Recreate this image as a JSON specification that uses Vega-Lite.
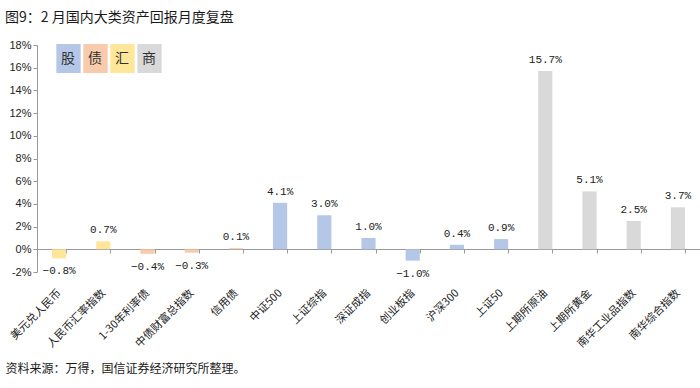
{
  "$schema": "https://vega.github.io/schema/vega-lite/v6.json",
  "width": 700,
  "height": 388,
  "autosize": {"type": "fit", "contains": "padding"},
  "padding": {"left": 5, "right": 0, "top": 11, "bottom": 13},
  "background": "white",
  "title": {
    "text": "图9：2 月国内大类资产回报月度复盘",
    "anchor": "start",
    "frame": "bounds",
    "font": "Noto Sans CJK SC",
    "fontSize": 14,
    "fontWeight": "normal",
    "color": "#1a1a1a",
    "offset": 14
  },
  "config": {
    "view": {"stroke": null},
    "font": "Noto Sans CJK SC"
  },
  "data": {
    "values": [
      {"name": "美元兑人民币", "type": "汇", "value": -0.8},
      {"name": "人民币汇率指数", "type": "汇", "value": 0.7},
      {"name": "1-30年利率债", "type": "债", "value": -0.4},
      {"name": "中债财富总指数", "type": "债", "value": -0.3},
      {"name": "信用债", "type": "债", "value": 0.1},
      {"name": "中证500", "type": "股", "value": 4.1},
      {"name": "上证综指", "type": "股", "value": 3.0},
      {"name": "深证成指", "type": "股", "value": 1.0},
      {"name": "创业板指", "type": "股", "value": -1.0},
      {"name": "沪深300", "type": "股", "value": 0.4},
      {"name": "上证50", "type": "股", "value": 0.9},
      {"name": "上期所原油", "type": "商", "value": 15.7},
      {"name": "上期所黄金", "type": "商", "value": 5.1},
      {"name": "南华工业品指数", "type": "商", "value": 2.5},
      {"name": "南华综合指数", "type": "商", "value": 3.7}
    ]
  },
  "encoding": {
    "x": {
      "field": "name",
      "type": "nominal",
      "sort": null,
      "scale": {"paddingInner": 0.68, "paddingOuter": 0.34},
      "axis": {
        "title": "资料来源：万得，国信证券经济研究所整理。",
        "titleFont": "Noto Sans CJK SC",
        "titleFontSize": 12,
        "titleFontWeight": "normal",
        "titleColor": "#1a1a1a",
        "titleAnchor": "start",
        "titleAlign": "left",
        "titleX": -32,
        "titlePadding": 15,
        "labelAngle": -45,
        "labelAlign": "right",
        "labelBaseline": "middle",
        "labelPadding": 38,
        "labelFont": "Noto Sans CJK SC",
        "labelFontSize": 11,
        "labelColor": "#222",
        "offset": -23,
        "tickBand": "extent",
        "tickSize": 4,
        "tickColor": "#999",
        "domainColor": "#999",
        "grid": false
      }
    },
    "y": {
      "field": "value",
      "type": "quantitative",
      "scale": {"domain": [-2, 18], "nice": false},
      "axis": {
        "title": null,
        "values": [-2, 0, 2, 4, 6, 8, 10, 12, 14, 16, 18],
        "labelExpr": "datum.value + '%'",
        "labelOverlap": false,
        "labelFlush": false,
        "labelFont": "Liberation Sans",
        "labelFontSize": 11,
        "labelColor": "#222",
        "domainColor": "#999",
        "tickColor": "#999",
        "tickSize": 4,
        "grid": false
      }
    }
  },
  "layer": [
    {
      "mark": {"type": "bar"},
      "encoding": {
        "color": {
          "field": "type",
          "type": "nominal",
          "scale": {
            "domain": ["股", "债", "汇", "商"],
            "range": ["#B4C7E7", "#F8CBAD", "#FFE699", "#D9D9D9"]
          },
          "legend": {
            "orient": "none",
            "legendX": 17,
            "legendY": -1,
            "direction": "horizontal",
            "columns": 4,
            "title": null,
            "symbolType": "M-0.84,-1H0.84V1H-0.84Z",
            "symbolSize": 841,
            "symbolStrokeWidth": 0,
            "symbolOpacity": 1,
            "labelOffset": -15,
            "labelAlign": "center",
            "labelFont": "Noto Sans CJK SC",
            "labelFontSize": 14,
            "labelColor": "#333",
            "columnPadding": 0,
            "padding": 0
          }
        }
      }
    },
    {
      "transform": [
        {"filter": "datum.value >= 0"},
        {"calculate": "format(datum.value, '.1f') + '%'", "as": "label"}
      ],
      "mark": {"type": "text", "baseline": "bottom", "dy": -6, "font": "Liberation Mono", "fontSize": 11, "color": "#222"},
      "encoding": {
        "text": {"field": "label"}
      }
    },
    {
      "transform": [
        {"filter": "datum.value < 0"},
        {"calculate": "format(datum.value, '.1f') + '%'", "as": "label"}
      ],
      "mark": {"type": "text", "baseline": "top", "dy": 7, "font": "Liberation Mono", "fontSize": 11, "color": "#222"},
      "encoding": {
        "text": {"field": "label"}
      }
    }
  ]
}
